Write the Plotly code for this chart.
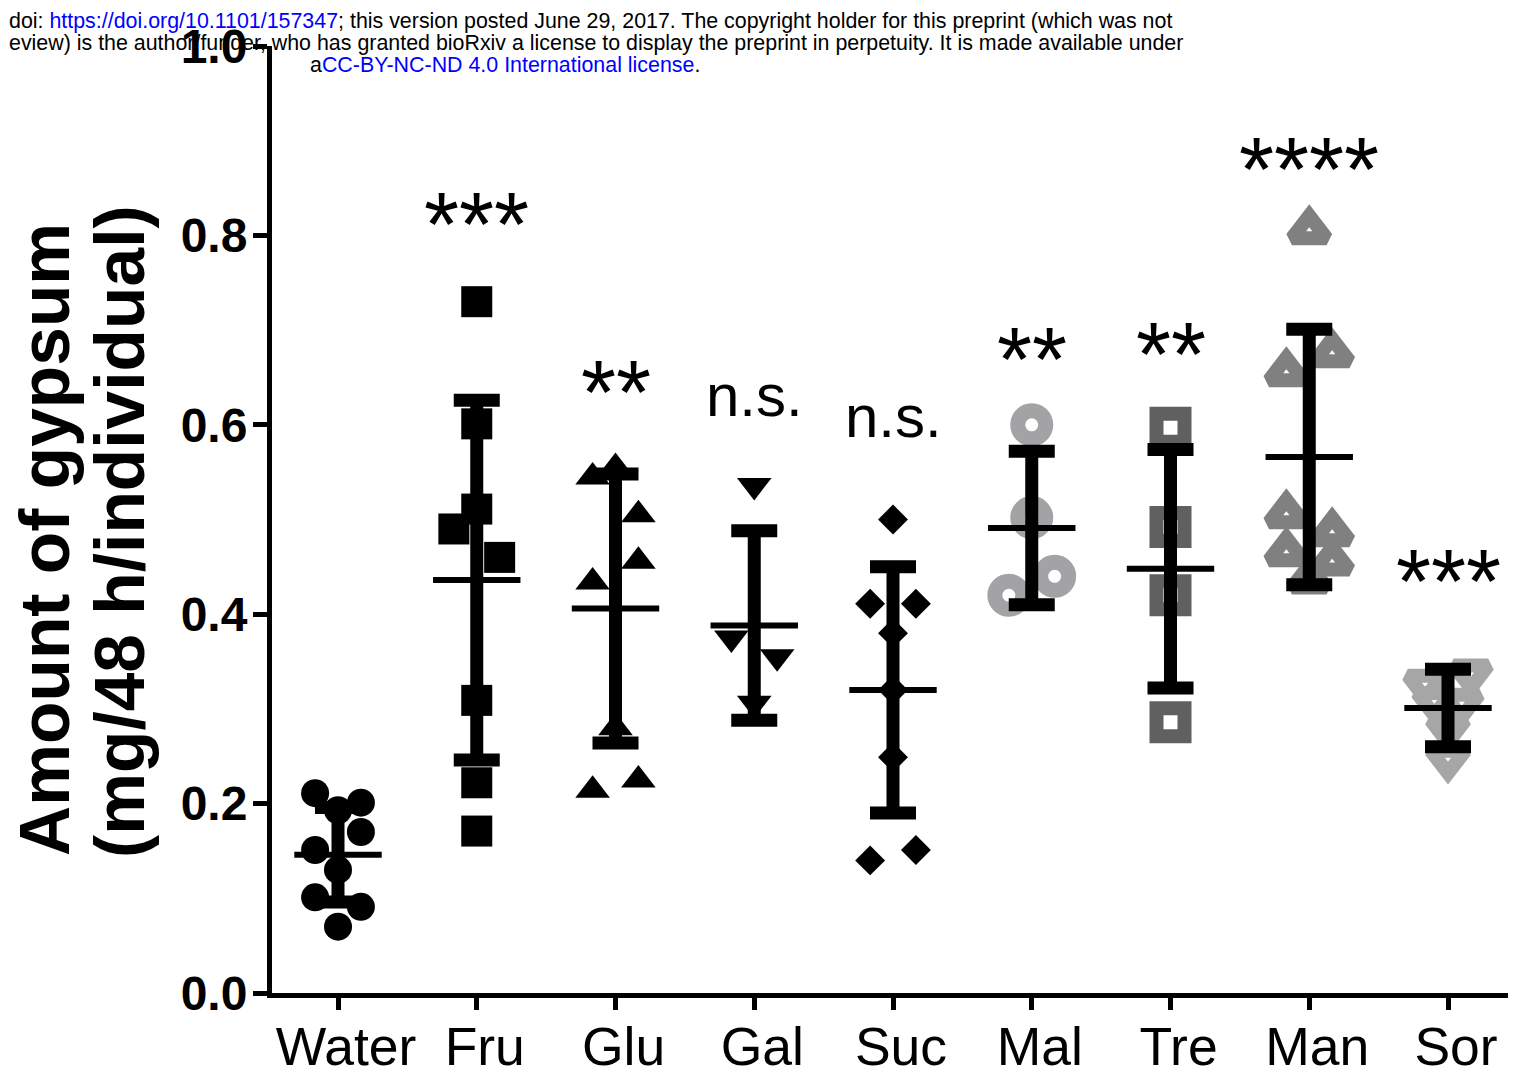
import plotly.graph_objects as go

# ---------------- data ----------------
categories = ["Water", "Fru", "Glu", "Gal", "Suc", "Mal", "Tre", "Man", "Sor"]

water = [0.211, 0.201, 0.193, 0.170, 0.151, 0.130, 0.101, 0.091, 0.070]
fru = [0.730, 0.601, 0.511, 0.490, 0.460, 0.309, 0.222, 0.171]
glu = [0.555, 0.545, 0.505, 0.456, 0.434, 0.280, 0.225, 0.214]
gal = [0.536, 0.375, 0.355, 0.306]
suc = [0.500, 0.411, 0.411, 0.380, 0.320, 0.249, 0.151, 0.140]
mal = [0.600, 0.502, 0.440, 0.420]
tre = [0.597, 0.492, 0.420, 0.286]
man = [0.805, 0.675, 0.655, 0.505, 0.486, 0.465, 0.455, 0.436]
sor = [0.338, 0.327, 0.309, 0.307, 0.280, 0.248]

means = [0.146, 0.436, 0.406, 0.388, 0.320, 0.491, 0.448, 0.566, 0.301]
sds = [0.050, 0.190, 0.142, 0.100, 0.130, 0.081, 0.126, 0.135, 0.041]

sig_labels = ["", "***", "**", "n.s.", "n.s.", "**", "**", "****", "***"]
sig_y = [None, 0.827, 0.649, 0.626, 0.603, 0.684, 0.690, 0.885, 0.450]

y_ticks = [0.0, 0.2, 0.4, 0.6, 0.8, 1.0]
y_ticktext = ["0.0", "0.2", "0.4", "0.6", "0.8", "1.0"]

# horizontal scatter of points within a column (multiples of SPREAD)
jitter = {
    "Water": [-1, 1, 0, 1, -1, 0, -1, 1, 0],
    "Fru": [0, 0, 0, -1, 1, 0, 0, 0],
    "Glu": [0, -1, 1, 1, -1, 0, 1, -1],
    "Gal": [0, -1, 1, 0],
    "Suc": [0, -1, 1, 0, 0, 0, 1, -1],
    "Mal": [0, 0, 1, -1],
    "Tre": [0, 0, 0, 0],
    "Man": [0, 1, -1, -1, 1, -1, 1, 0],
    "Sor": [1, -1, -0.6, 0.6, 0, 0],
}
groups = [water, fru, glu, gal, suc, mal, tre, man, sor]

# ---------------- styles ----------------
SPREAD = 0.165
FONT = "Liberation Sans, Arial, Helvetica, sans-serif"
styles = {
    "Water": dict(symbol="circle", size=28, color="black", line=dict(width=0)),
    "Fru": dict(symbol="square", size=31, color="black", line=dict(width=0)),
    "Glu": dict(symbol="triangle-up", size=30, color="black", line=dict(width=0)),
    "Gal": dict(symbol="triangle-down", size=30, color="black", line=dict(width=0)),
    "Suc": dict(symbol="diamond", size=23, color="black", line=dict(width=0)),
    "Mal": dict(symbol="circle-open", size=28, color="#a3a3a6", line=dict(width=15, color="#a3a3a6")),
    "Tre": dict(symbol="square-open", size=28, color="#606060", line=dict(width=14, color="#606060")),
    "Man": dict(symbol="triangle-up-open", size=30, color="#808080", line=dict(width=14, color="#808080")),
    "Sor": dict(symbol="triangle-down-open", size=30, color="#a6a6a6", line=dict(width=14, color="#a6a6a6")),
}

# page geometry (the html body adds an 8px margin)
W, H = 1500, 1062
L, T, PW, PH = 264, 38, 1236, 947
PAGE_L, PAGE_Y0 = 272, 993   # plot-area left edge / y=0 line, in page pixels

fig = go.Figure()

for i, (cat, vals) in enumerate(zip(categories, groups)):
    xs = [i + j * SPREAD for j in jitter[cat]]
    fig.add_trace(go.Scatter(x=xs, y=vals, mode="markers", marker=styles[cat],
                             showlegend=False, hoverinfo="y"))

# error bars (mean +/- SD)
fig.add_trace(go.Scatter(
    x=list(range(len(categories))), y=means, mode="markers",
    marker=dict(size=1, color="rgba(0,0,0,0)"),
    error_y=dict(type="data", array=sds, visible=True, color="black", thickness=13, width=23),
    showlegend=False, hoverinfo="skip"))

# mean lines
HALF = 0.315
mx, my = [], []
for i, m in enumerate(means):
    mx += [i - HALF, i + HALF, None]
    my += [m, m, None]
fig.add_trace(go.Scatter(x=mx, y=my, mode="lines", line=dict(color="black", width=6),
                         showlegend=False, hoverinfo="skip"))

# significance labels
for i, (lab, yv) in enumerate(zip(sig_labels, sig_y)):
    if not lab:
        continue
    star = lab.startswith("*")
    fig.add_annotation(x=i, y=yv, xref="x", yref="y", text=lab, showarrow=False,
                       xanchor="center", yanchor="middle",
                       yshift=-15 if star else 5,
                       font=dict(family=FONT, size=90 if star else 60, color="black"))


def px_x(page_x):
    return (page_x - PAGE_L) / PW


def px_y(page_y):
    return (PAGE_Y0 - page_y) / PH


# y-axis title (two tight lines)
fig.add_annotation(x=px_x(45), y=px_y(540), xref="paper", yref="paper", text="<b>Amount of gypsum</b>",
                   textangle=-90, showarrow=False, xanchor="center", yanchor="middle",
                   font=dict(family=FONT, size=69.5, color="black"))
fig.add_annotation(x=px_x(120), y=px_y(532), xref="paper", yref="paper", text="<b>(mg/48 h/individual)</b>",
                   textangle=-90, showarrow=False, xanchor="center", yanchor="middle",
                   font=dict(family=FONT, size=69.5, color="black"))

# preprint header
BLUE = "#0000ff"
hdr = [
    (8, 21, "left", "doi: <span style='color:%s'>https://doi.org/10.1101/157347</span>; this version posted June 29, 2017. The copyright holder for this preprint (which was not" % BLUE),
    (8, 43, "left", "eview) is the author/funder, who has granted bioRxiv a license to display the preprint in perpetuity. It is made available under"),
    (505, 65, "center", "a<span style='color:%s'>CC-BY-NC-ND 4.0 International license</span>." % BLUE),
]
for pxv, pyv, anc, txt in hdr:
    fig.add_annotation(x=px_x(pxv), y=px_y(pyv), xref="paper", yref="paper",
                       text=txt, showarrow=False, xanchor=anc, yanchor="middle",
                       borderpad=0,
                       font=dict(family=FONT, size=21.4, color="black"))

fig.update_layout(
    width=W, height=H,
    margin=dict(l=L, r=0, t=T, b=H - T - PH, pad=0, autoexpand=False),
    plot_bgcolor="white", paper_bgcolor="white",
    xaxis=dict(range=[-0.4757, 8.4324], tickmode="array", tickvals=list(range(len(categories))),
               ticktext=categories, showline=True, linewidth=5, linecolor="black",
               ticks="outside", ticklen=12, tickwidth=5, tickcolor="black",
               showgrid=False, zeroline=False, automargin=False,
               ticklabelstandoff=-9, ticklabelshift=8,
               tickfont=dict(family=FONT, size=53.5, color="black")),
    yaxis=dict(range=[0, 1.0], tickmode="array", tickvals=y_ticks, ticktext=y_ticktext,
               showline=True, linewidth=5, linecolor="black",
               ticks="outside", ticklen=14, tickwidth=5, tickcolor="black",
               showgrid=False, zeroline=False, automargin=False,
               ticklabelstandoff=-4,
               tickfont=dict(family=FONT, size=48, color="black", weight="bold")),
)

fig.write_html("out.html")
